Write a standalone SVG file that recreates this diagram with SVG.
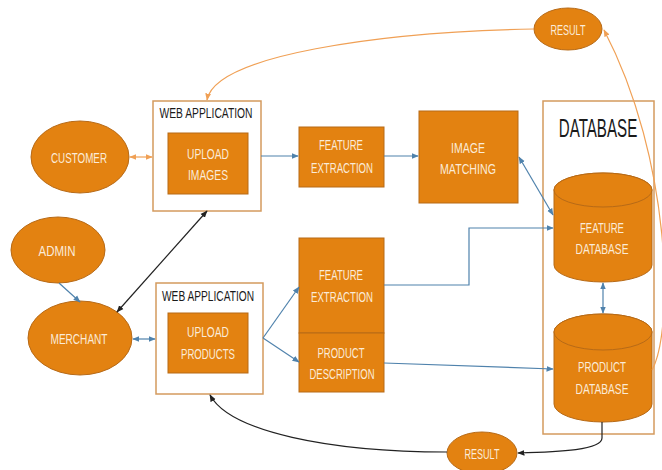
<svg xmlns="http://www.w3.org/2000/svg" width="662" height="470" viewBox="0 0 662 470">
<style>
.n{fill:#E38211;stroke:#B76A17;stroke-width:1}
.t{font-family:"Liberation Sans",Arial,sans-serif;font-size:15px;fill:#FBEBD8;text-anchor:middle}
.h{font-family:"Liberation Sans",Arial,sans-serif;font-size:15px;fill:#1a1a1a;text-anchor:middle}
.w{fill:#fff;stroke:#D49A5E;stroke-width:1.5}
.b{fill:none;stroke:#4F82AC;stroke-width:1.2}
.o{fill:none;stroke:#F0A055;stroke-width:1.2}
.k{fill:none;stroke:#222;stroke-width:1.2}
</style>
<defs>
<marker id="ab" viewBox="0 0 10 10" refX="9" refY="5" markerWidth="6" markerHeight="6" orient="auto-start-reverse"><path d="M0,1 L10,5 L0,9 z" fill="#4F82AC"/></marker>
<marker id="ao" viewBox="0 0 10 10" refX="9" refY="5" markerWidth="6" markerHeight="6" orient="auto-start-reverse"><path d="M0,1 L10,5 L0,9 z" fill="#F0A055"/></marker>
<marker id="ak" viewBox="0 0 10 10" refX="9" refY="5" markerWidth="6" markerHeight="6" orient="auto-start-reverse"><path d="M0,1 L10,5 L0,9 z" fill="#222"/></marker>
</defs>

<g id="customer"><ellipse class="n" cx="80" cy="157" rx="49" ry="36"/><text class="t" x="79" y="163" textLength="56" lengthAdjust="spacingAndGlyphs">CUSTOMER</text></g>
<g id="admin"><ellipse class="n" cx="58" cy="250" rx="47" ry="33"/><text class="t" x="57" y="256" textLength="37" lengthAdjust="spacingAndGlyphs">ADMIN</text></g>
<g id="merchant"><ellipse class="n" cx="80" cy="338" rx="52" ry="37"/><text class="t" x="79" y="344" textLength="57" lengthAdjust="spacingAndGlyphs">MERCHANT</text></g>

<g id="webapp1"><rect class="w" x="153" y="101" width="108" height="110"/><text class="h" x="206" y="118" textLength="93" lengthAdjust="spacingAndGlyphs">WEB APPLICATION</text>
<rect class="n" x="168" y="133" width="80" height="61"/><text class="t" x="208" y="159" textLength="42" lengthAdjust="spacingAndGlyphs">UPLOAD</text><text class="t" x="208" y="180" textLength="40" lengthAdjust="spacingAndGlyphs">IMAGES</text></g>

<g id="webapp2"><rect class="w" x="156" y="283" width="107" height="111"/><text class="h" x="208" y="301" textLength="92" lengthAdjust="spacingAndGlyphs">WEB APPLICATION</text>
<rect class="n" x="168" y="313" width="80" height="60"/><text class="t" x="208" y="337" textLength="42" lengthAdjust="spacingAndGlyphs">UPLOAD</text><text class="t" x="208" y="359" textLength="54" lengthAdjust="spacingAndGlyphs">PRODUCTS</text></g>

<g id="featext1"><rect class="n" x="299" y="127" width="85" height="60"/><text class="t" x="341" y="150" textLength="44" lengthAdjust="spacingAndGlyphs">FEATURE</text><text class="t" x="342" y="172.5" textLength="62" lengthAdjust="spacingAndGlyphs">EXTRACTION</text></g>
<g id="imgmatch"><rect class="n" x="419" y="111" width="99" height="92"/><text class="t" x="468" y="153" textLength="34" lengthAdjust="spacingAndGlyphs">IMAGE</text><text class="t" x="468" y="174" textLength="56" lengthAdjust="spacingAndGlyphs">MATCHING</text></g>
<g id="featext2"><rect class="n" x="299" y="238" width="85" height="95"/><text class="t" x="341" y="280" textLength="44" lengthAdjust="spacingAndGlyphs">FEATURE</text><text class="t" x="342" y="302" textLength="62" lengthAdjust="spacingAndGlyphs">EXTRACTION</text></g>
<g id="proddesc"><rect class="n" x="299" y="333" width="85" height="59"/><text class="t" x="341" y="358" textLength="47" lengthAdjust="spacingAndGlyphs">PRODUCT</text><text class="t" x="342" y="379" textLength="65" lengthAdjust="spacingAndGlyphs">DESCRIPTION</text></g>

<g id="database"><rect class="w" x="543" y="101" width="111" height="333"/><text class="h" transform="translate(598,137) scale(0.605,1)" x="0" y="0" style="font-size:25px">DATABASE</text></g>
<g id="featdb"><path class="n" d="M554,190 L554,265 A49,17 0 0 0 652,265 L652,190 A49,17 0 0 0 554,190 z"/><ellipse class="n" cx="603" cy="190" rx="49" ry="17"/><text class="t" x="602" y="233" textLength="44" lengthAdjust="spacingAndGlyphs">FEATURE</text><text class="t" x="602" y="254" textLength="53" lengthAdjust="spacingAndGlyphs">DATABASE</text></g>
<g id="proddb"><path class="n" d="M554,332 L554,404 A49,18 0 0 0 652,404 L652,332 A49,18 0 0 0 554,332 z"/><ellipse class="n" cx="603" cy="332" rx="49" ry="18"/><text class="t" x="602" y="372" textLength="48" lengthAdjust="spacingAndGlyphs">PRODUCT</text><text class="t" x="602" y="394" textLength="53" lengthAdjust="spacingAndGlyphs">DATABASE</text></g>

<g id="result1"><ellipse class="n" cx="568" cy="29" rx="34" ry="21"/><text class="t" x="568" y="35" textLength="35" lengthAdjust="spacingAndGlyphs">RESULT</text></g>
<g id="result2"><ellipse class="n" cx="482" cy="453" rx="35" ry="21"/><text class="t" x="482" y="459" textLength="35" lengthAdjust="spacingAndGlyphs">RESULT</text></g>

<g id="connectors">
<line class="o" x1="130" y1="157" x2="152" y2="157" marker-start="url(#ao)" marker-end="url(#ao)"/>
<path class="o" d="M534,29 C380,32 215,55 207,100" marker-end="url(#ao)"/>
<path class="o" d="M652,370 C674,330 672,160 604,30" marker-end="url(#ao)"/>
<line class="b" x1="261" y1="156" x2="298" y2="156" marker-end="url(#ab)"/>
<line class="b" x1="384" y1="156" x2="418" y2="156" marker-end="url(#ab)"/>
<line class="b" x1="519" y1="157" x2="553" y2="215" marker-start="url(#ab)" marker-end="url(#ab)"/>
<path class="b" d="M384,285 L469,285 L469,228 L553,228" marker-end="url(#ab)"/>
<line class="b" x1="384" y1="363" x2="553" y2="369" marker-end="url(#ab)"/>
<line class="b" x1="603" y1="283" x2="603" y2="313" marker-start="url(#ab)" marker-end="url(#ab)"/>
<line class="b" x1="59" y1="283" x2="80" y2="302" marker-end="url(#ab)"/>
<line class="b" x1="133" y1="339" x2="155" y2="339" marker-start="url(#ab)" marker-end="url(#ab)"/>
<line class="b" x1="263" y1="338" x2="299" y2="287" marker-end="url(#ab)"/>
<line class="b" x1="263" y1="338" x2="299" y2="362" marker-end="url(#ab)"/>
<line class="k" x1="207" y1="211" x2="117" y2="312" marker-start="url(#ak)" marker-end="url(#ak)"/>
<path class="k" d="M602,422 L602,438 C602,450 560,452 518,453" marker-end="url(#ak)"/>
<path class="k" d="M447,452 C330,452 230,432 210,395" marker-end="url(#ak)"/>
</g>
</svg>
